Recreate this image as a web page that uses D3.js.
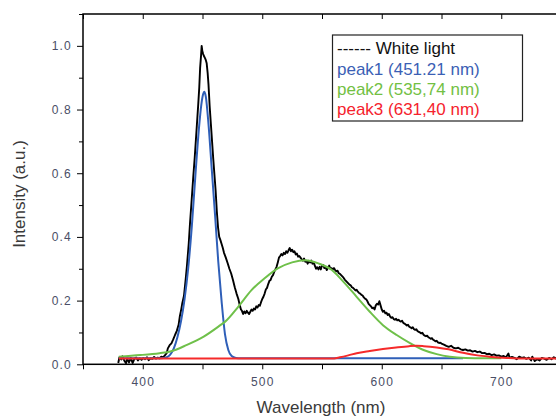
<!DOCTYPE html>
<html>
<head>
<meta charset="utf-8">
<script src="https://cdn.jsdelivr.net/npm/d3@7"></script>
<style>
  body { margin: 0; background: #fff; }
  svg { display: block; font-family: "Liberation Sans", Arial, sans-serif; }
</style>
</head>
<body>
<div id="chart"></div>
<script>
const whiteWl = [379.5,380.5,382,383,384.5,386,387,388.5,390,391.5,393,394.5,396,397.5,399,400.5,402,403.5,405,406.5,408,409.5,411,412.5,414,415.5,417,418.5,420,421,422.5,424,425.5,427,428.5,430,431,432,433,434.5,436,437,438.5,439.5,441,442.3,443.5,445,446.5,447.3,448,448.8,449.3,449.8,450.5,451.2,452,452.8,453.5,454.3,455,456,457,458,459,460,461,462,463,464,465,466,467,468,469.5,471,472.5,474,475.5,477,478.5,480,481.2,482.2,483,484,485,486,487,488,489,490,491,492,493,494,495,496,497,498,499,500,501,502,503,504,505,506,507,508,509,510,511,512,513,514,515,516,517,518,519,520,521,522,523,524,525,526,527,528,529,530,531,532,533,534,535,536,537,538,539,540,541,542,543,544,545,546,547,548,549,550,551,552,553,554,555,556,557,558,559,560,561,562,563,564,565,566,567,568,569,570,571,572,573,574,575,576,577,578,579,580,581,582,583,584,585,586,587,588,589,590,591,592,593,594,595,596,597,598,599,600,601,602,603,604,605,606,607,608,609,610,611,612,613,614,615,616,617,618,619,620,621,622,623,624,625,626,627,628,629,630,631,632,633,634,635,636,637,638,639,640,641,642,643,644,645,646,647,648,649,650,652,654,656,658,660,662,664,666,668,670,672,674,676,678,680,682,684,686,688,690,692,694,696,698,700,702,704,706,707,709,711,713,715,717,719,721,723,725,726,728,730,732,734,736,738,740,742,744,746,748,750];
const whiteInt = [0.004,0.022,0.015,0.025,0.012,0.003,0.018,0.006,0.020,0.004,0.017,0.021,0.012,0.019,0.014,0.020,0.016,0.022,0.013,0.019,0.017,0.023,0.018,0.021,0.019,0.024,0.022,0.028,0.035,0.050,0.060,0.066,0.078,0.092,0.105,0.124,0.150,0.168,0.190,0.215,0.27,0.31,0.38,0.44,0.52,0.59,0.65,0.735,0.82,0.87,0.93,0.97,1.0,0.985,0.975,0.968,0.962,0.955,0.945,0.915,0.88,0.81,0.755,0.70,0.645,0.595,0.545,0.48,0.43,0.40,0.39,0.378,0.365,0.35,0.335,0.318,0.30,0.285,0.265,0.242,0.222,0.205,0.185,0.172,0.168,0.158,0.166,0.160,0.168,0.162,0.158,0.165,0.172,0.168,0.175,0.172,0.182,0.178,0.186,0.184,0.195,0.205,0.212,0.222,0.235,0.24,0.252,0.262,0.265,0.275,0.28,0.29,0.298,0.306,0.32,0.335,0.34,0.346,0.342,0.35,0.346,0.355,0.35,0.358,0.365,0.355,0.36,0.352,0.355,0.345,0.348,0.338,0.34,0.335,0.33,0.325,0.332,0.322,0.325,0.316,0.325,0.32,0.326,0.316,0.32,0.31,0.3,0.305,0.298,0.306,0.298,0.31,0.312,0.302,0.305,0.296,0.303,0.31,0.3,0.302,0.298,0.302,0.296,0.292,0.294,0.286,0.284,0.28,0.276,0.272,0.266,0.262,0.258,0.254,0.25,0.248,0.242,0.24,0.236,0.232,0.234,0.228,0.224,0.222,0.218,0.216,0.21,0.206,0.204,0.198,0.19,0.186,0.182,0.176,0.178,0.172,0.185,0.19,0.188,0.198,0.185,0.172,0.165,0.168,0.16,0.162,0.155,0.158,0.15,0.146,0.148,0.142,0.14,0.143,0.138,0.14,0.136,0.134,0.137,0.13,0.128,0.125,0.122,0.124,0.118,0.116,0.113,0.116,0.11,0.108,0.11,0.104,0.102,0.1,0.097,0.099,0.093,0.09,0.088,0.09,0.085,0.083,0.08,0.082,0.077,0.075,0.072,0.074,0.069,0.067,0.068,0.065,0.062,0.058,0.055,0.058,0.052,0.05,0.052,0.047,0.045,0.047,0.043,0.044,0.04,0.042,0.038,0.04,0.035,0.036,0.032,0.033,0.029,0.031,0.027,0.028,0.024,0.026,0.022,0.034,0.02,0.023,0.02,0.016,0.024,0.02,0.022,0.017,0.021,0.012,0.024,0.01,0.016,0.012,0.02,0.018,0.014,0.02,0.016,0.022,0.018,0.02,0.019];

// fitted peaks
const peak1Wl  = [380,415,420,423,426,429,432,435,438,441,444,447,449,450.5,451.5,452.8,455,457.7,460.5,463.2,466,468.8,471.6,474.4,478,482,668];
const peak1Int = [0.019,0.019,0.022,0.03,0.05,0.085,0.135,0.205,0.3,0.43,0.59,0.74,0.815,0.848,0.856,0.84,0.755,0.615,0.469,0.322,0.197,0.095,0.045,0.026,0.02,0.019,0.019];

const peak2Wl  = [380,398,414,423,437,451,465,469,480,491,502,513,525,536,547,558,568,579,590,601,612.5,624,635,646,657,670,685,700];
const peak2Int = [0.024,0.029,0.035,0.04,0.061,0.087,0.123,0.134,0.181,0.233,0.27,0.301,0.32,0.327,0.317,0.297,0.259,0.212,0.165,0.123,0.092,0.066,0.045,0.032,0.024,0.02,0.019,0.019];

const peak3Wl  = [380,558,565,572,579,590,601,612,623,629,635,646,656,668,680,690,705,720,750];
const peak3Int = [0.018,0.018,0.022,0.028,0.035,0.042,0.048,0.053,0.057,0.058,0.057,0.053,0.047,0.036,0.028,0.024,0.02,0.018,0.018];

const legendLabels = ["------ White light", "peak1 (451.21 nm)", "peak2 (535,74 nm)", "peak3 (631,40 nm)"];
const legendColors = ["#111111", "#3b5fb5", "#72c043", "#f5222d"];

const xMajor = [400, 500, 600, 700];
const xMinor = [350, 450, 550, 650, 750];
const yMajor = [0, 0.2, 0.4, 0.6, 0.8, 1.0];
const yMinor = [0.1, 0.3, 0.5, 0.7, 0.9, 1.1];

const W = 556, H = 416;
const margin = { left: 83, top: 14 };
const plotW = 478, plotH = 350.3;

const svg = d3.select("#chart").append("svg")
  .attr("width", W).attr("height", H);

const x = d3.scaleLinear().domain([350, 750]).range([margin.left, margin.left + plotW]);
const y = d3.scaleLinear().domain([0, 1.1]).range([margin.top + plotH, margin.top]);

svg.append("clipPath").attr("id", "plotclip")
  .append("rect").attr("x", margin.left).attr("y", margin.top)
  .attr("width", plotW).attr("height", plotH);

// axes
function styleAxis(g, keepText) {
  g.select(".domain").remove();
  g.selectAll(".tick line").attr("stroke", "#000").attr("stroke-width", 1);
  if (!keepText) g.selectAll(".tick text").remove();
  else g.selectAll(".tick text")
    .attr("fill", "#4a4e66")
    .style("font-size", "12px")
    .style("letter-spacing", "1.2px")
    .style("font-family", "'Liberation Sans', Arial, sans-serif");
}

const bottomY = margin.top + plotH;
svg.append("g").attr("transform", `translate(0,${bottomY})`)
  .call(d3.axisBottom(x).tickValues(xMajor).tickSize(5).tickPadding(8).tickFormat(d3.format("d")))
  .call(g => styleAxis(g, true));
svg.append("g").attr("transform", `translate(0,${bottomY})`)
  .call(d3.axisBottom(x).tickValues(xMinor).tickSize(5).tickFormat(""))
  .call(g => styleAxis(g, false));

svg.append("g").attr("transform", `translate(${margin.left},0)`)
  .call(d3.axisLeft(y).tickValues(yMajor).tickSize(6).tickPadding(5).tickFormat(d3.format(".1f")))
  .call(g => styleAxis(g, true));
svg.append("g").attr("transform", `translate(${margin.left},0)`)
  .call(d3.axisLeft(y).tickValues(yMinor).tickSize(4).tickFormat(""))
  .call(g => styleAxis(g, false));

// top and right: ticks pointing in
svg.append("g").attr("transform", `translate(0,${margin.top})`)
  .call(d3.axisTop(x).tickValues(xMajor.concat(xMinor)).tickSize(-5).tickFormat(""))
  .call(g => styleAxis(g, false));
svg.append("g").attr("transform", `translate(${margin.left + plotW},0)`)
  .call(d3.axisRight(y).tickValues(yMajor.concat(yMinor)).tickSize(-5).tickFormat(""))
  .call(g => styleAxis(g, false));

// frame
svg.append("rect")
  .attr("x", margin.left).attr("y", margin.top)
  .attr("width", plotW).attr("height", plotH)
  .attr("fill", "none").attr("stroke", "#000").attr("stroke-width", 1.5);

// curves
const plot = svg.append("g").attr("clip-path", "url(#plotclip)");

function series(wl, vals) { return wl.map((w, i) => [w, vals[i]]); }

const rawLine = d3.line().x(d => x(d[0])).y(d => y(d[1]));
const fitLine = d3.line().x(d => x(d[0])).y(d => y(d[1])).curve(d3.curveMonotoneX);

plot.append("path").datum(series(whiteWl, whiteInt))
  .attr("d", rawLine).attr("fill", "none")
  .attr("stroke", "#000").attr("stroke-width", 1.9).attr("stroke-linejoin", "round");

const fits = [
  { wl: peak1Wl, v: peak1Int, color: "#2f5fb8" },
  { wl: peak2Wl, v: peak2Int, color: "#6fc04a" },
  { wl: peak3Wl, v: peak3Int, color: "#f52a2a" }
];
fits.forEach(f => {
  plot.append("path").datum(series(f.wl, f.v))
    .attr("d", fitLine).attr("fill", "none")
    .attr("stroke", f.color).attr("stroke-width", 2);
});

// axis titles
svg.append("text")
  .attr("x", 321).attr("y", 413)
  .attr("text-anchor", "middle")
  .attr("fill", "#3a3a3a")
  .style("font-size", "17px")
  .text("Wavelength (nm)");

svg.append("text")
  .attr("transform", "translate(25,194) rotate(-90)")
  .attr("text-anchor", "middle")
  .attr("fill", "#3a3a3a")
  .style("font-size", "17px")
  .text("Intensity (a.u.)");

// legend
const legend = svg.append("g");
legend.append("rect")
  .attr("x", 332.5).attr("y", 35)
  .attr("width", 190).attr("height", 86)
  .attr("fill", "#fff").attr("stroke", "#222").attr("stroke-width", 1.2);

const rowY = [54, 75, 95, 115];
legend.selectAll("text.leg").data(legendLabels).enter().append("text")
  .attr("class", "leg")
  .attr("x", 337)
  .attr("y", (d, i) => rowY[i])
  .attr("fill", (d, i) => legendColors[i])
  .style("font-size", "17px")
  .text(d => d);
</script>
</body>
</html>
